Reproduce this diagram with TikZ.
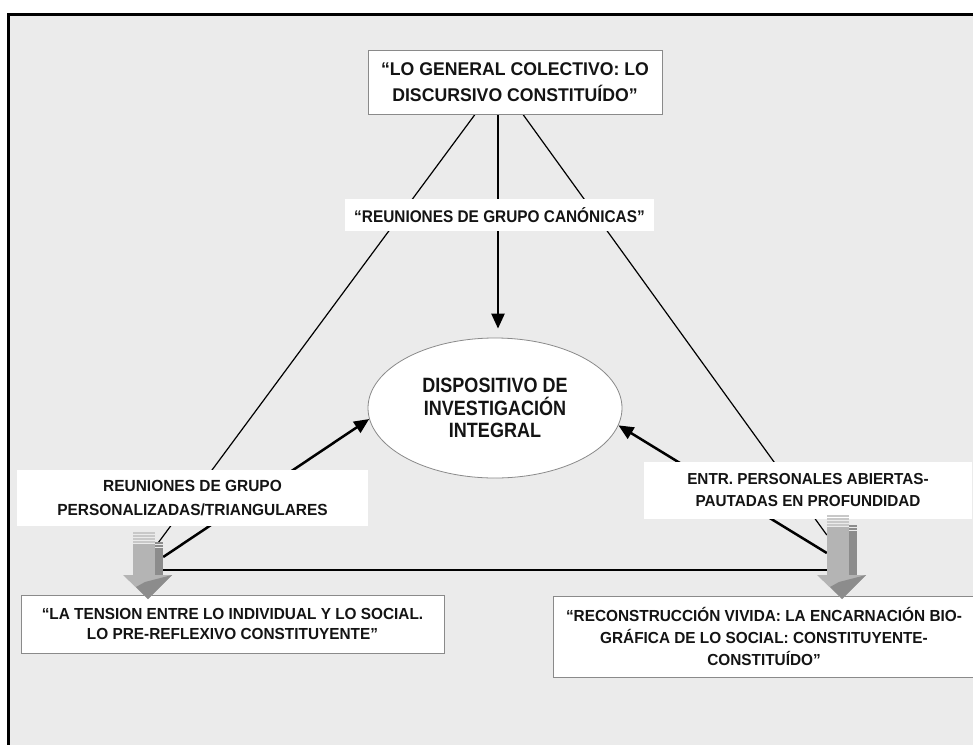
\documentclass[tikz,border=0pt]{standalone}
\usepackage{fontspec}
\setmainfont{Liberation Sans}
\newfontfamily\fontnarrow[FakeStretch=0.87]{Liberation Sans}
\newfontfamily\fontmid[FakeStretch=0.91]{Liberation Sans}
\newfontfamily\fontwide[FakeStretch=0.96]{Liberation Sans}
\usetikzlibrary{arrows.meta,shapes.geometric,calc}
\definecolor{bgc}{HTML}{EBEBEB}
\definecolor{boxgray}{HTML}{8A8A8A}
\definecolor{arlight}{HTML}{B4B4B4}
\definecolor{arstripe}{HTML}{C8C8C8}
\definecolor{ardark}{HTML}{8C8C8C}
\definecolor{inkc}{HTML}{141414}
\pgfdeclarelayer{bglayer}
\pgfdeclarelayer{linelayer}
\pgfsetlayers{bglayer,linelayer,main}
\begin{document}
\begin{tikzpicture}[x=1pt,y=-1pt,
  txt/.style={align=center, text=inkc, inner sep=0pt},
  fw/.style 2 args={font={\fontwide\bfseries\fontsize{#1}{#2}\selectfont}},
  fm/.style 2 args={font={\fontmid\bfseries\fontsize{#1}{#2}\selectfont}},
  fn/.style 2 args={font={\fontnarrow\bfseries\fontsize{#1}{#2}\selectfont}},
  mainbox/.style={txt, draw=boxgray, line width=0.9pt, fill=white},
  lblbox/.style={txt, fill=white},
  thinline/.style={line width=1.2pt},
  thickline/.style={line width=2.5pt},
  tipped/.style={-{Triangle[length=15pt,width=13pt]}},
  pics/grayarrow/.style={code={
    \fill[arlight] (-15,0) rectangle (7,-#1+12);
    \foreach \k in {0,1,2,3}{\fill[arstripe] (-15,-#1+3*\k) rectangle (7,-#1+3*\k+1.8);}
    \fill[ardark] (7,0) rectangle (15,-#1+16);
    \foreach \k in {0,1}{\fill[ardark] (7,-#1+10+3*\k) rectangle (15,-#1+10+3*\k+1.6);}
    \fill[arlight] (-25,0) -- (24,0) -- (0,24) -- cycle;
    \fill[ardark] (-3,7) -- (24,0) -- (0,24) -- (-12,12) -- cycle;
  }}
]
\useasboundingbox (0,0) rectangle (973,744);
\begin{pgfonlayer}{bglayer}
  \fill[white] (0,0) rectangle (973,744);
  \fill[bgc] (8.5,14) rectangle (990,760);
  \draw[line width=3pt] (8.5,760) -- (8.5,14) -- (990,14);
\end{pgfonlayer}

% main boxes and labels
\node[mainbox, fw={18.4}{25.5}, minimum width=294pt, minimum height=64pt] (top) at (515,82)
  {“LO GENERAL COLECTIVO: LO\\DISCURSIVO CONSTITUÍDO”};
\node[lblbox, fm={16.9}{22}, minimum width=309pt, minimum height=32pt] (canon) at (499.5,215)
  {“REUNIONES DE GRUPO CANÓNICAS”};
\node[txt, ellipse, draw=boxgray, line width=0.8pt, fill=white, fn={20.7}{22.5},
  minimum width=254pt, minimum height=140pt] (disp) at (495,408)
  {DISPOSITIVO DE\\INVESTIGACIÓN\\INTEGRAL};
\node[lblbox, fw={16.1}{24}, minimum width=351pt, minimum height=56pt] (lblL) at (192.5,498)
  {REUNIONES DE GRUPO\\PERSONALIZADAS/TRIANGULARES};
\node[lblbox, fw={15.9}{22}, minimum width=328pt, minimum height=57pt] (lblR) at (808,490.5)
  {ENTR. PERSONALES ABIERTAS-\\PAUTADAS EN PROFUNDIDAD};
\node[mainbox, fw={16}{20}, minimum width=423pt, minimum height=58pt] (botL) at (232.5,624)
  {“LA TENSION ENTRE LO INDIVIDUAL Y LO SOCIAL.\\LO PRE-REFLEXIVO CONSTITUYENTE”};
\node[mainbox, fw={16}{22}, minimum width=422pt, minimum height=81pt] (botR) at (764,636.5)
  {“RECONSTRUCCIÓN VIVIDA: LA ENCARNACIÓN BIO-\\GRÁFICA DE LO SOCIAL: CONSTITUYENTE-\\CONSTITUÍDO”};

% gray block arrows (anchor nodes for their bodies)
\node[inner sep=0pt, minimum width=30pt, minimum height=43pt] (gaL) at (148,553.5) {};
\node[inner sep=0pt, minimum width=30pt, minimum height=60pt] (gaR) at (842,545) {};

\begin{pgfonlayer}{linelayer}
  \draw[thinline] ([xshift=-40pt]top.south) -- ([xshift=-5pt,yshift=-11pt]gaL.north east);
  \draw[thinline] ([xshift=8pt]top.south) -- ([yshift=10pt]gaR.west);
  \draw[thickline,tipped] ([xshift=-17pt]top.south) -- ($(disp.north)+(3,-9)$);
  \draw[thickline,tipped] ([yshift=-3.5pt]gaL.east) -- (disp.185);
  \draw[thickline,tipped] ([yshift=-8pt]gaR.west) -- (disp.352);
  \draw[thickline] ([yshift=5pt]gaL.south east) -- ([yshift=5pt]gaR.south west);
\end{pgfonlayer}

\pic at (148,575) {grayarrow=43};
\pic at (842,575) {grayarrow=60};
\end{tikzpicture}
\end{document}
